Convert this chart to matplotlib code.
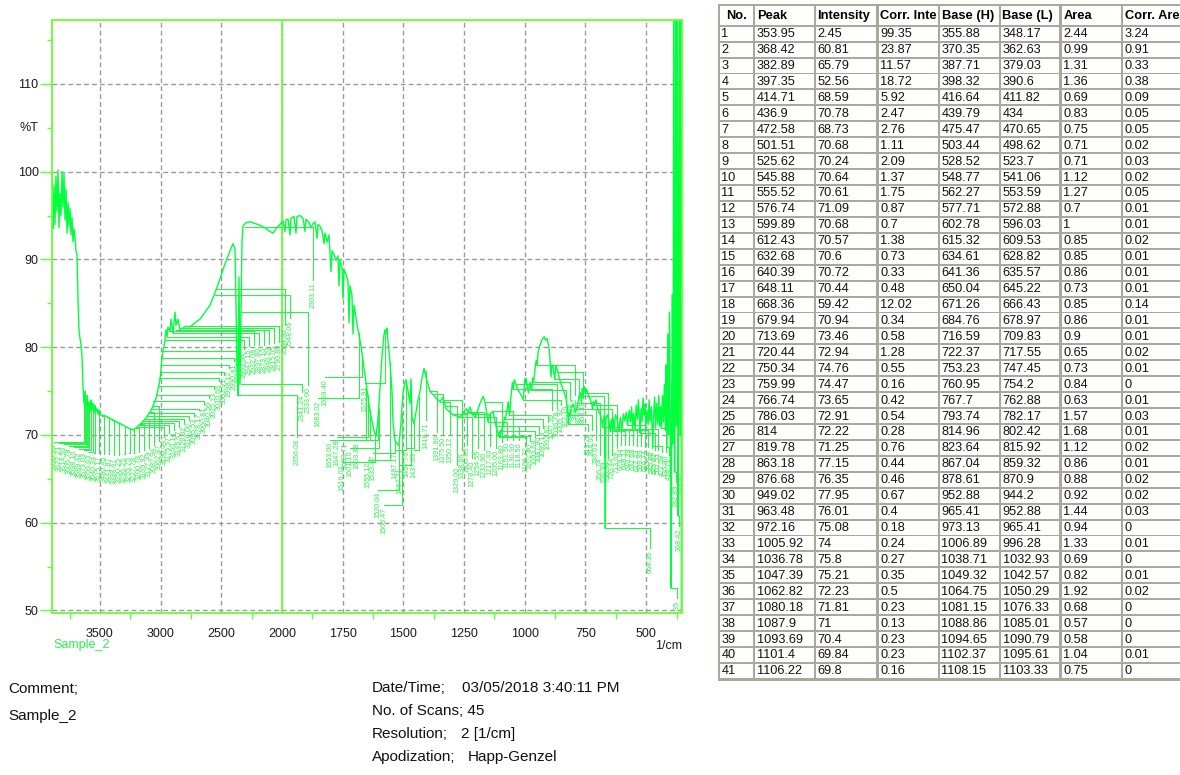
import numpy as np
import matplotlib
matplotlib.use("Agg")
import matplotlib.pyplot as plt
from matplotlib.patches import Rectangle
from matplotlib.ticker import FixedLocator, FuncFormatter
from matplotlib.transforms import Bbox, TransformedBbox

plt.rcParams['font.family'] = ['Liberation Sans', 'DejaVu Sans']

# ---------------- spectrum (wavenumber 1/cm, %T) ----------------
wavenumber = [
    3894.5, 3890.4, 3886.3, 3878.0, 3869.8, 3861.6, 3853.3, 3845.1, 3836.9, 3828.6,
    3820.4, 3812.1, 3803.9, 3795.7, 3787.4, 3779.2, 3771.0, 3762.7, 3754.5, 3746.2,
    3738.0, 3729.8, 3721.5, 3713.3, 3705.1, 3696.8, 3688.6, 3680.3, 3672.1, 3663.9,
    3655.6, 3647.4, 3639.2, 3630.9, 3622.7, 3614.5, 3606.2, 3598.0, 3589.7, 3581.5,
    3573.3, 3565.0, 3556.8, 3548.6, 3540.3, 3532.1, 3523.8, 3515.6, 3507.4, 3499.1,
    3457.9, 3416.8, 3375.6, 3334.4, 3293.2, 3252.0, 3227.3, 3202.6, 3169.7, 3128.5,
    3087.3, 3062.6, 3037.9, 3021.4, 3004.9, 2996.7, 2988.4, 2980.2, 2963.7, 2955.5,
    2947.2, 2939.0, 2922.5, 2914.3, 2897.8, 2881.4, 2873.1, 2856.6, 2840.2, 2815.5,
    2790.8, 2757.8, 2716.6, 2675.4, 2634.2, 2593.1, 2551.9, 2510.7, 2469.5, 2428.3,
    2403.6, 2387.1, 2378.9, 2370.7, 2362.4, 2354.2, 2346.0, 2337.7, 2329.5, 2321.2,
    2296.5, 2263.6, 2222.4, 2181.2, 2140.0, 2098.8, 2074.1, 2049.4, 2016.5,
    1995.9, 1987.6, 1983.5, 1975.3, 1967.0, 1962.9, 1950.6, 1942.3, 1938.2, 1925.9,
    1913.5, 1905.3, 1901.2, 1888.8, 1880.5, 1872.3, 1864.1, 1855.8, 1851.7, 1843.5,
    1835.2, 1827.0, 1822.9, 1814.6, 1806.4, 1798.1, 1794.0, 1785.8, 1777.6, 1769.3,
    1765.2, 1761.1, 1752.9, 1748.7, 1744.6, 1736.4, 1728.1, 1724.0, 1719.9, 1711.7,
    1707.5, 1703.4, 1695.2, 1687.0, 1678.7, 1670.5, 1662.2, 1654.0, 1645.8, 1637.5,
    1629.3, 1621.1, 1612.8, 1604.6, 1596.3, 1588.1, 1579.9, 1575.8, 1571.6, 1567.5,
    1563.4, 1555.1, 1546.9, 1542.8, 1534.6, 1526.3, 1518.1, 1509.8, 1501.6, 1493.4,
    1489.2, 1481.0, 1472.8, 1468.7, 1464.5, 1456.3, 1448.1, 1439.8, 1431.6, 1423.3,
    1415.1, 1406.9, 1398.6, 1390.4, 1378.0, 1365.7, 1349.2, 1336.8, 1324.5, 1308.0,
    1295.6, 1283.3, 1266.8, 1254.5, 1242.1, 1233.9, 1225.6, 1217.4, 1205.0, 1192.7,
    1184.4, 1172.1, 1163.8, 1151.5, 1143.2, 1130.9, 1118.5,
    1106.22, 1103.5, 1101.4, 1097.0, 1093.69, 1090.5, 1087.9, 1084.0, 1080.18, 1072.0,
    1068.0, 1062.82, 1057.0, 1051.0, 1047.39, 1043.0, 1036.78, 1030.0, 1020.0, 1012.0,
    1005.92, 1000.5, 995.0, 989.0, 985.0, 978.0, 972.16, 968.0, 963.48, 958.0,
    953.0, 949.02, 945.0, 938.0, 930.0, 920.0, 915.0, 908.0, 902.0, 897.0,
    892.0, 888.0, 883.0, 876.68, 872.0, 868.0, 863.18, 858.0, 850.0, 840.0,
    830.0, 825.0, 819.78, 817.0, 814.0, 808.0, 800.0, 792.0, 786.03, 780.0,
    775.0, 770.0, 766.74, 763.0, 759.99, 755.0, 750.34, 745.0, 738.0, 730.0,
    725.0, 720.44, 717.0, 713.69, 707.0, 700.0, 690.0, 684.0, 679.94, 673.0,
    670.0, 668.36, 666.0, 660.0, 654.0, 648.11, 644.0, 640.39, 636.0, 632.68,
    626.0, 620.0, 612.43, 606.0, 599.89, 594.0, 588.0, 582.0, 576.74, 570.0,
    565.0, 560.0, 555.52, 552.0, 548.0, 545.88, 541.0, 536.0, 532.0, 528.0,
    525.62, 521.0, 517.0, 513.0, 508.0, 504.0, 501.51, 497.0, 492.0, 488.0,
    484.0, 479.0, 475.0, 472.58, 469.0, 465.0, 461.0, 457.0, 452.0, 448.0,
    444.0, 440.0, 436.9, 433.0, 429.0, 425.0, 421.0, 418.0, 414.71, 411.0,
    408.0, 404.0, 400.5, 397.35, 395.0, 392.0, 389.0, 386.5, 384.5, 382.89,
    380.0, 378.0, 375.0, 371.0, 368.42, 366.0, 362.0, 359.0, 356.5, 353.95,
    352.4,
]
transmittance = [
    100.0, 96.0, 93.5, 98.5, 94.0, 99.5, 95.5, 100.2, 93.6, 97.5,
    95.0, 100.0, 96.0, 99.8, 94.5, 98.0, 93.0, 96.5, 93.8, 95.8,
    92.8, 94.8, 92.0, 93.5, 92.5, 91.0, 90.5, 85.4, 82.0, 81.0,
    80.3, 79.0, 75.5, 73.6, 75.0, 72.8, 74.5, 72.8, 73.8, 72.6,
    74.0, 72.9, 73.6, 72.5, 73.4, 72.7, 73.0, 72.4, 72.9, 72.3,
    72.2, 71.9, 71.6, 71.3, 71.0, 70.7, 70.6, 70.8, 71.2, 71.8,
    72.6, 73.3, 74.2, 75.2, 76.3, 77.5, 78.8, 79.6, 80.8, 82.0,
    81.2, 82.3, 81.8, 83.2, 81.6, 84.0, 82.5, 83.2, 82.0, 82.2,
    82.4, 82.3, 82.8, 83.2, 84.0, 84.8, 86.2, 87.8, 89.5, 91.0,
    91.8, 91.2, 85.0, 78.0, 74.5, 88.0, 75.8, 84.0, 92.0, 93.8,
    94.2, 94.3, 94.1, 93.9, 93.6, 93.2, 93.0, 93.5, 94.0,
    94.4, 93.2, 94.5, 94.6, 92.8, 94.7, 94.9, 93.0, 94.9, 95.0,
    94.7, 93.2, 94.6, 94.2, 93.6, 94.1, 94.3, 92.4, 94.0, 93.8,
    93.3, 91.8, 93.0, 92.0, 92.8, 88.6, 91.0, 90.6, 89.9, 90.4,
    87.0, 89.9, 89.2, 85.5, 88.9, 88.3, 87.5, 82.8, 87.0, 85.9,
    81.5, 84.8, 83.4, 82.0, 80.8, 79.4, 77.6, 76.0, 74.3, 72.7,
    71.6, 70.5, 69.8, 71.8, 75.5, 79.0, 81.4, 82.0, 81.6, 82.2,
    80.6, 78.3, 75.0, 71.5, 69.4, 69.0, 68.8, 71.5, 74.8, 76.0,
    76.3, 75.0, 73.6, 76.4, 72.0, 71.3, 72.6, 74.0, 75.0, 76.5,
    77.6, 76.6, 75.8, 75.0, 74.6, 74.2, 73.8, 74.3, 73.0, 72.6,
    72.3, 72.2, 72.0, 72.5, 73.0, 72.6, 73.2, 72.4, 72.0, 72.9,
    73.6, 74.4, 73.8, 71.5, 72.4, 72.7, 71.0,
    69.8, 70.4, 69.84, 70.6, 70.4, 71.3, 71.0, 72.0, 71.81, 73.0,
    73.8, 72.23, 74.3, 76.0, 75.21, 76.3, 75.8, 75.2, 74.8, 74.4,
    74.0, 76.3, 76.5, 75.5, 74.8, 76.0, 75.08, 76.5, 76.01, 77.5,
    78.5, 77.95, 79.5, 80.2, 80.8, 81.2, 80.8, 81.0, 80.2, 79.0,
    76.6, 78.0, 77.8, 76.35, 77.9, 77.6, 77.15, 76.5, 75.8, 75.0,
    74.2, 73.2, 71.25, 72.5, 72.22, 73.2, 73.5, 72.6, 72.91, 73.8,
    74.6, 74.8, 73.65, 75.3, 74.47, 75.5, 74.76, 75.2, 74.5, 74.0,
    73.6, 72.94, 73.8, 73.46, 74.0, 73.0, 72.4, 71.8, 70.94, 72.2,
    72.0, 59.42, 71.9, 72.3, 71.6, 70.44, 71.8, 70.72, 72.0, 70.6,
    72.3, 71.8, 70.57, 72.0, 70.68, 72.4, 71.6, 72.6, 71.09, 72.8,
    71.5, 73.2, 70.61, 72.5, 71.3, 70.64, 73.4, 71.8, 74.0, 72.0,
    70.24, 73.0, 71.5, 74.2, 72.3, 73.5, 70.68, 72.8, 71.2, 74.0,
    71.6, 73.2, 70.5, 68.73, 72.5, 74.3, 70.8, 73.6, 71.2, 74.5,
    71.0, 73.2, 70.78, 74.5, 71.5, 75.8, 70.5, 78.0, 68.59, 81.5,
    70.0, 84.0, 69.0, 52.56, 73.0, 86.0, 69.0, 125.0, 70.0, 65.79,
    76.0, 125.0, 71.0, 125.0, 60.81, 75.0, 125.0, 70.0, 125.0, 2.45,
    60.0,
]

# ---------------- peak table ----------------
table_columns = ['No.', 'Peak', 'Intensity', 'Corr. Intensity', 'Base (H)', 'Base (L)', 'Area', 'Corr. Area']
peak_no = list(range(1, 42))
peak_pos = [353.95, 368.42, 382.89, 397.35, 414.71, 436.9, 472.58, 501.51, 525.62, 545.88,
            555.52, 576.74, 599.89, 612.43, 632.68, 640.39, 648.11, 668.36, 679.94, 713.69,
            720.44, 750.34, 759.99, 766.74, 786.03, 814, 819.78, 863.18, 876.68, 949.02,
            963.48, 972.16, 1005.92, 1036.78, 1047.39, 1062.82, 1080.18, 1087.9, 1093.69, 1101.4,
            1106.22]
intensity = [2.45, 60.81, 65.79, 52.56, 68.59, 70.78, 68.73, 70.68, 70.24, 70.64,
             70.61, 71.09, 70.68, 70.57, 70.6, 70.72, 70.44, 59.42, 70.94, 73.46,
             72.94, 74.76, 74.47, 73.65, 72.91, 72.22, 71.25, 77.15, 76.35, 77.95,
             76.01, 75.08, 74, 75.8, 75.21, 72.23, 71.81, 71, 70.4, 69.84,
             69.8]
corr_intensity = [99.35, 23.87, 11.57, 18.72, 5.92, 2.47, 2.76, 1.11, 2.09, 1.37,
                  1.75, 0.87, 0.7, 1.38, 0.73, 0.33, 0.48, 12.02, 0.34, 0.58,
                  1.28, 0.55, 0.16, 0.42, 0.54, 0.28, 0.76, 0.44, 0.46, 0.67,
                  0.4, 0.18, 0.24, 0.27, 0.35, 0.5, 0.23, 0.13, 0.23, 0.23,
                  0.16]
base_h = [355.88, 370.35, 387.71, 398.32, 416.64, 439.79, 475.47, 503.44, 528.52, 548.77,
          562.27, 577.71, 602.78, 615.32, 634.61, 641.36, 650.04, 671.26, 684.76, 716.59,
          722.37, 753.23, 760.95, 767.7, 793.74, 814.96, 823.64, 867.04, 878.61, 952.88,
          965.41, 973.13, 1006.89, 1038.71, 1049.32, 1064.75, 1081.15, 1088.86, 1094.65, 1102.37,
          1108.15]
base_l = [348.17, 362.63, 379.03, 390.6, 411.82, 434, 470.65, 498.62, 523.7, 541.06,
          553.59, 572.88, 596.03, 609.53, 628.82, 635.57, 645.22, 666.43, 678.97, 709.83,
          717.55, 747.45, 754.2, 762.88, 782.17, 802.42, 815.92, 859.32, 870.9, 944.2,
          952.88, 965.41, 996.28, 1032.93, 1042.57, 1050.29, 1076.33, 1085.01, 1090.79, 1095.61,
          1103.33]
area = [2.44, 0.99, 1.31, 1.36, 0.69, 0.83, 0.75, 0.71, 0.71, 1.12,
        1.27, 0.7, 1, 0.85, 0.85, 0.86, 0.73, 0.85, 0.86, 0.9,
        0.65, 0.73, 0.84, 0.63, 1.57, 1.68, 1.12, 0.86, 0.88, 0.92,
        1.44, 0.94, 1.33, 0.69, 0.82, 1.92, 0.68, 0.57, 0.58, 1.04,
        0.75]
corr_area = [3.24, 0.91, 0.33, 0.38, 0.09, 0.05, 0.05, 0.02, 0.03, 0.02,
             0.05, 0.01, 0.01, 0.02, 0.01, 0.01, 0.01, 0.14, 0.01, 0.01,
             0.02, 0.01, 0, 0.01, 0.03, 0.01, 0.02, 0.01, 0.02, 0.02,
             0.03, 0, 0.01, 0, 0.01, 0.02, 0, 0, 0, 0.01,
             0]

# ---------------- peak labels drawn on the spectrum ----------------
# peaks above 1110 1/cm (the lower ones come from the table)
ann_peak = [3630.93, 3622.21, 3614.50, 3606.78, 3598.10, 3589.42, 3573.03, 3556.63, 3540.24, 3515.17,
            3480.45, 3441.87, 3398.47, 3350.25, 3296.25, 3255.75, 3227.78, 3200.78, 3169.92, 3127.49,
            3087.94, 3062.87, 3190.04, 3175.57, 3160.14, 3145.67, 3128.32, 3110.00, 3095.53, 3078.17,
            3060.81, 3040.56, 3025.13, 3010.66, 3003.91, 2998.12, 2990.41, 2982.69, 2963.54, 2947.15,
            2922.08, 2897.80, 2873.10, 2840.20, 2815.05, 2790.80,
            2548.06, 2534.62, 2356.08, 2341.24, 2333.00, 2303.11,
            1683.02, 1669.40, 1653.00, 1647.28, 1638.71, 1616.00, 1603.88, 1601.10, 1575.91, 1555.12,
            1533.47, 1520.04, 1506.47, 1487.17, 1467.71, 1457.76, 1437.03, 1418.71, 1391.90, 1375.50,
            1350.12, 1338.66, 1329.00, 1300.80, 1278.40, 1254.55, 1233.90, 1217.40, 1205.00, 1163.80,
            1151.50, 1130.90, 1118.50]
ann_peak_t = [73.6, 75.0, 72.8, 74.5, 72.8, 73.8, 74.0, 73.6, 73.4, 72.4,
              72.2, 72.0, 71.7, 71.4, 71.0, 70.7, 70.6, 70.8, 71.2, 71.8,
              72.6, 73.3, 70.9, 71.1, 71.4, 71.6, 71.8, 72.2, 72.5, 73.0,
              73.9, 74.6, 75.6, 76.5, 77.2, 78.0, 78.8, 79.6, 80.8, 81.2,
              81.8, 81.6, 82.0, 82.0, 82.2, 82.4,
              86.0, 86.6, 74.5, 75.8, 84.0, 93.7,
              81.6, 79.2, 75.8, 74.6, 72.9, 70.1, 72.0, 73.0, 81.9, 78.2,
              69.3, 68.9, 72.5, 75.8, 75.5, 71.4, 74.3, 77.3, 75.0, 74.7,
              73.8, 74.0, 73.3, 72.4, 72.1, 72.5, 72.6, 72.4, 72.0, 73.8,
              71.5, 72.7, 71.0]
# label anchor (wavenumber, %T) for the peaks above, then for table peaks 1..41
ann_label_w = [3878.0, 3836.9, 3795.7, 3754.5, 3713.3, 3672.1, 3630.9, 3589.7, 3548.6, 3507.4,
               3466.2, 3425.0, 3383.8, 3342.6, 3301.4, 3260.3, 3219.1, 3177.9, 3136.7, 3095.5,
               3054.3, 3013.2, 2972.0, 2930.8, 2889.6, 2848.4, 2807.2, 2766.0, 2724.9, 2683.7,
               2642.5, 2601.3, 2560.1, 2518.9, 2477.7, 2436.6, 2395.4, 2354.2, 2313.0, 2271.8,
               2230.6, 2189.4, 2148.3, 2107.1, 2065.9, 2024.7,
               1967.0, 1987.6, 1938.2, 1917.6, 1892.9, 1872.3,
               1851.7, 1822.9, 1802.3, 1773.5, 1740.5, 1752.9, 1691.1, 1719.9, 1658.1, 1645.8,
               1625.2, 1604.6, 1579.9, 1534.6, 1513.9, 1485.1, 1456.3, 1406.9, 1361.6, 1336.8,
               1308.0, 1258.6, 1279.2, 1238.0, 1217.4, 1192.7, 1167.9, 1143.2, 1118.5, 1093.8,
               1073.2, 1048.5, 1023.8,
               356.4, 364.7, 377.1, 373.0, 405.9, 418.3, 434.8, 451.3, 463.6, 476.0,
               492.4, 504.8, 521.3, 537.8, 554.2, 570.7, 587.2, 484.2, 603.7, 620.1,
               640.7, 657.2, 673.7, 690.2, 706.6, 723.1, 739.6, 760.2, 776.7, 793.1,
               813.7, 830.2, 850.8, 867.3, 887.9, 904.3, 924.9, 941.4, 957.9, 978.5,
               995.0]
ann_label_t = [69.2, 69.1, 69.0, 68.8, 68.6, 68.4, 68.3, 68.1, 68.0, 67.9,
               67.85, 67.8, 67.7, 67.7, 67.8, 67.9, 67.9, 68.1, 68.3, 68.5,
               68.9, 69.3, 69.8, 70.2, 70.6, 70.9, 71.3, 71.7, 72.2, 72.8,
               73.5, 74.2, 75.2, 76.1, 76.8, 77.6, 78.4, 79.2, 79.8, 80.1,
               80.2, 80.3, 80.3, 80.4, 80.5, 80.6,
               83.3, 82.5, 69.8, 74.9, 75.7, 87.7,
               74.22, 76.61, 69.43, 69.77, 69.43, 66.92, 69.43, 68.52, 75.93, 67.15,
               67.95, 63.73, 62.02, 68.29, 66.58, 68.52, 68.29, 71.71, 70.34, 70.00,
               70.00, 68.29, 66.58, 68.86, 67.38, 68.52, 68.29, 68.75, 68.52, 69.20,
               69.43, 69.43, 69.43,
               66.0, 59.6, 64.6, 51.4, 67.72, 68.06, 68.06, 68.29, 68.29, 68.52,
               68.63, 68.63, 68.75, 68.75, 68.86, 68.86, 68.86, 57.12, 68.86, 68.52,
               67.72, 67.38, 67.38, 67.72, 69.43, 70.57, 70.5, 74.22, 74.22, 74.56,
               73.99, 73.76, 73.42, 73.08, 72.85, 71.5, 70.8, 70.2, 69.8, 69.3,
               69.0]

# ---------------- axes ticks ----------------
x_major = [3500, 3000, 2500, 2000, 1750, 1500, 1250, 1000, 750, 500]
x_minor = [3750, 3250, 2750, 2250, 1875, 1625, 1375, 1125, 875, 625, 375]
y_major = [50, 60, 70, 80, 90, 100, 110]
y_minor = [55, 65, 75, 85, 95, 105, 115]

# ---------------- info text ----------------
info_left = ['Comment;', 'Sample_2']
info_keys = ['Date/Time;', 'No. of Scans; 45', 'Resolution;', 'Apodization;']
info_vals = ['03/05/2018 3:40:11 PM', '', '2 [1/cm]', 'Happ-Genzel']

# =====================================================================
W, H = 1180, 775
fig = plt.figure(figsize=(W / 100, H / 100), dpi=100, facecolor='white')

spec_c = '#00ff3c'
spine_c = '#66ff33'
ann_c = '#2cf04c'

# ---- overlay axes in pixel coordinates (table + texts) ----
ax_t = fig.add_axes([0, 0, 1, 1])
ax_t.set_xlim(0, W)
ax_t.set_ylim(H, 0)
ax_t.axis('off')

# ---- spectrum axes (x axis compressed x2 above 2000 1/cm) ----
def fwd(w):
    w = np.asarray(w, dtype=float)
    return np.where(w <= 2000, w - 2000, (w - 2000) / 2.0)

def inv(u):
    u = np.asarray(u, dtype=float)
    return np.where(u <= 0, u + 2000, 2000 + 2.0 * u)

ax = fig.add_axes([52 / W, 1 - 612.5 / H, 630 / W, 592.5 / H])
ax.set_facecolor('white')
ax.set_xscale('function', functions=(fwd, inv))
ax.set_xlim(3894.5, 352.4)
ax.set_ylim(49.77, 117.29)

ax.xaxis.set_major_locator(FixedLocator(x_major))
ax.xaxis.set_minor_locator(FixedLocator(x_minor))
ax.xaxis.set_major_formatter(FuncFormatter(lambda v, p: f'{v:.0f}'))
ax.xaxis.set_minor_formatter(FuncFormatter(lambda v, p: ''))
ax.yaxis.set_major_locator(FixedLocator(y_major))
ax.yaxis.set_minor_locator(FixedLocator(y_minor))
ax.yaxis.set_major_formatter(FuncFormatter(lambda v, p: f'{v:.0f}'))

ax.grid(True, which='major', color='#9a9a9a', linestyle=(0, (3.4, 2.3)), linewidth=1.0)
ax.tick_params(axis='y', which='major', length=8.6, width=1.0, color=spine_c, pad=1.0,
               labelsize=9, labelcolor='#1a1a1a')
ax.tick_params(axis='y', which='minor', length=3.8, width=1.0, color=spine_c)
ax.tick_params(axis='x', which='major', length=0, pad=11, labelsize=9, labelcolor='#1a1a1a')
ax.tick_params(axis='x', which='minor', length=4.3, width=1.0, color=spine_c)
for s in ax.spines.values():
    s.set_color(spine_c)
    s.set_linewidth(1.3)

ax.axvline(2000, color=spine_c, lw=1.3, zorder=1.6)

ax.text(-13.4 / 630, 105, '%T', transform=ax.get_yaxis_transform(), ha='right', va='center',
        fontsize=9, color='#1a1a1a')

# annotations (leaders + rotated labels)
all_peak = list(ann_peak) + list(peak_pos)
all_peak_t = list(ann_peak_t) + list(intensity)
for pw, pt, lw_, lt in zip(all_peak, all_peak_t, ann_label_w, ann_label_t):
    if lw_ < pw:
        xs, ys = [pw, lw_, lw_], [pt, pt, lt]
    else:
        xs, ys = [pw, pw, lw_], [pt, lt, lt]
    ax.plot(xs, ys, color=ann_c, lw=0.8, zorder=2.2)
    t = ax.text(lw_, lt - 0.25, f'{pw:.2f}', rotation=90, ha='center', va='top',
                fontsize=5.2, color=ann_c, zorder=2.3, clip_on=True)
    t.set_clip_box(ax.bbox)

ax.plot(wavenumber, transmittance, color=spec_c, lw=1.0, zorder=2.5)

# labels under the plot
ax_t.text(53, 645, 'Sample_2', color=ann_c, fontsize=9, ha='left', va='center')
ax_t.text(682, 646, '1/cm', color='#1a1a1a', fontsize=9, ha='right', va='center')

# ---- table ----
col_l = [720.0, 755.3, 816.0, 878.7, 940.0, 1001.0, 1062.0, 1123.3]
col_r = [752.7, 814.3, 876.0, 937.7, 998.7, 1059.3, 1121.0, 1190.0]
ax_t.add_patch(Rectangle((717.5, 3.8), 480, 677.0, facecolor='#aca899', edgecolor='none', zorder=1))
head_top, head_bot = 6.0, 24.7
for j, name in enumerate(table_columns):
    l, r = col_l[j], col_r[j]
    ax_t.add_patch(Rectangle((l, head_top), r - l, head_bot - head_top, facecolor='white',
                             edgecolor='none', zorder=2))
    if j == 0:
        tx = ax_t.text((l + r) / 2, (head_top + head_bot) / 2 + 0.5, name, ha='center', va='center',
                       fontsize=9.3, fontweight='bold', zorder=3)
    else:
        tx = ax_t.text(l + 1.5, (head_top + head_bot) / 2 + 0.5, name, ha='left', va='center',
                       fontsize=9.3, fontweight='bold', zorder=3)
    tx.set_clip_box(TransformedBbox(Bbox.from_extents(l / 100, (H - head_bot) / 100,
                                                      (r - 1.5) / 100, (H - head_top) / 100),
                                    fig.dpi_scale_trans))
    tx.set_clip_on(True)

columns_data = [peak_no, peak_pos, intensity, corr_intensity, base_h, base_l, area, corr_area]
row0, pitch, rh = 26.7, 15.93, 14.0
for i in range(len(peak_no)):
    top = row0 + i * pitch
    for j, col in enumerate(columns_data):
        l, r = col_l[j], col_r[j]
        ax_t.add_patch(Rectangle((l, top), r - l, rh, facecolor='white', edgecolor='none', zorder=2))
        ax_t.text(l + 1.5, top + rh / 2 + 0.5, f'{col[i]:g}', ha='left', va='center',
                  fontsize=9.2, zorder=3, color='#111111')

# ---- info text ----
ax_t.text(8, 689, info_left[0], fontsize=11, ha='left', va='center', color='#111111')
ax_t.text(8, 716, info_left[1], fontsize=11, ha='left', va='center', color='#111111')
key_y = [688, 711, 734, 757]
val_x = [462, 462, 461, 468]
for k, v, yy, vx in zip(info_keys, info_vals, key_y, val_x):
    ax_t.text(372, yy, k, fontsize=11, ha='left', va='center', color='#111111')
    if v:
        ax_t.text(vx, yy, v, fontsize=11, ha='left', va='center', color='#111111')

fig.savefig('out.png', dpi=100, facecolor='white')
